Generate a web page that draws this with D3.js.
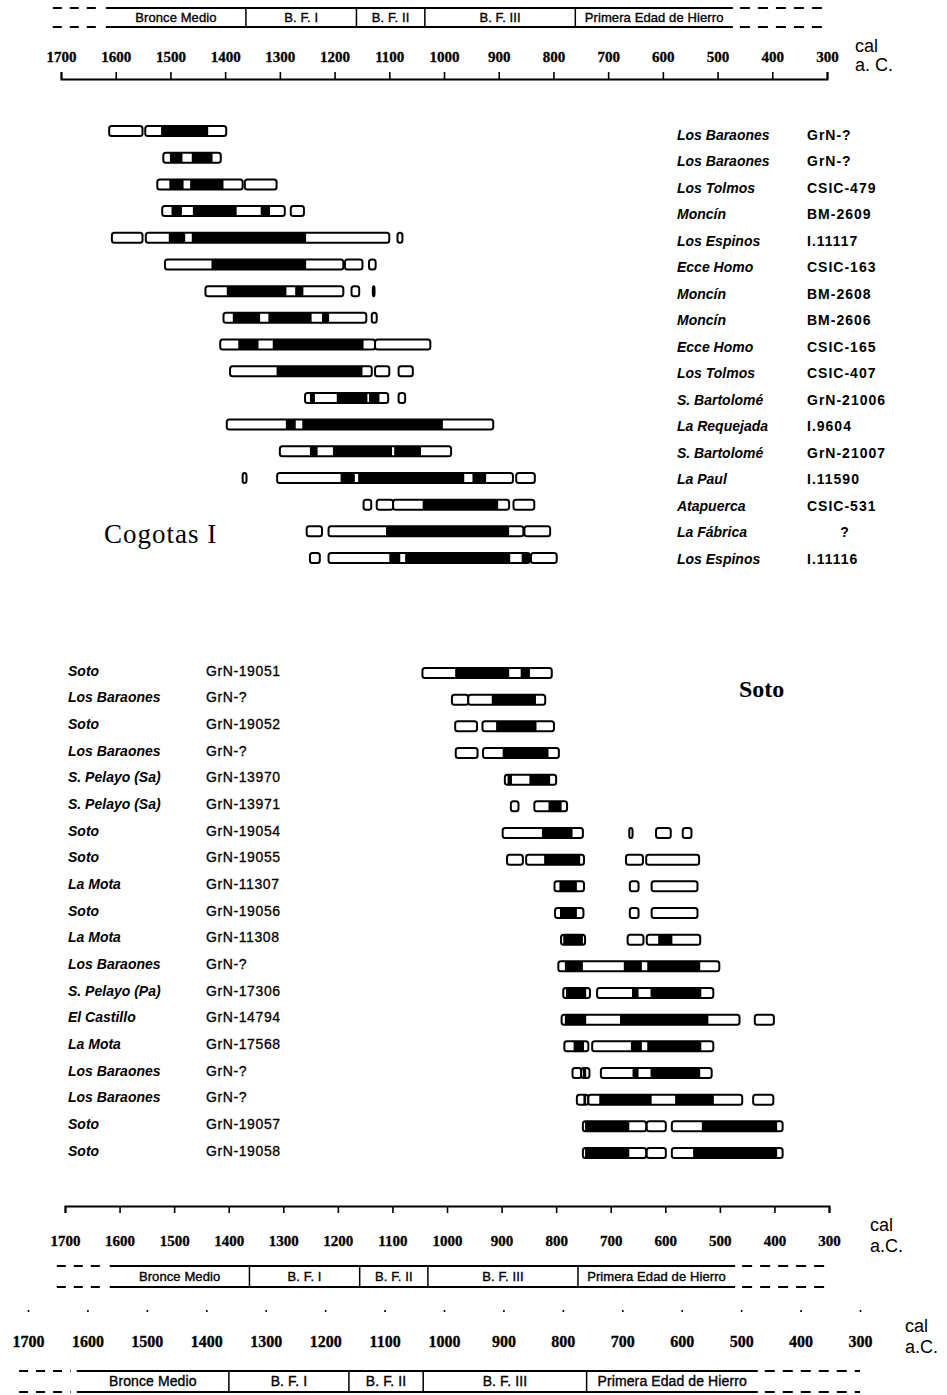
<!DOCTYPE html>
<html>
<head>
<meta charset="utf-8">
<script src="https://cdn.jsdelivr.net/npm/d3@7"></script>
<style>
  html, body { margin: 0; padding: 0; background: #fff; }
  svg { display: block; }
</style>
</head>
<body>
<svg id="chart" width="947" height="1395"></svg>
<script>
// ---- scale ticks (years cal BC) ----
const tickYears = [1700, 1600, 1500, 1400, 1300, 1200, 1100, 1000, 900, 800, 700, 600, 500, 400, 300];

// ---- cultural periods ----
const periodNames = ["Bronce Medio", "B. F. I", "B. F. II", "B. F. III", "Primera Edad de Hierro"];
const periodBounds = [1618, 1362, 1160, 1035, 760, 472];
const periodOpenEnds = [1715, 300];

// ---- Cogotas I dates: calibrated ranges (open boxes) and high-probability spans (black) ----
const cogotasSites = ["Los Baraones", "Los Baraones", "Los Tolmos", "Moncín", "Los Espinos", "Ecce Homo",
  "Moncín", "Moncín", "Ecce Homo", "Los Tolmos", "S. Bartolomé", "La Requejada", "S. Bartolomé",
  "La Paul", "Atapuerca", "La Fábrica", "Los Espinos"];
const cogotasCodes = ["GrN-?", "GrN-?", "CSIC-479", "BM-2609", "I.11117", "CSIC-163", "BM-2608", "BM-2606",
  "CSIC-165", "CSIC-407", "GrN-21006", "I.9604", "GrN-21007", "I.11590", "CSIC-531", "?", "I.11116"];
const cogotasBoxes = [
  [[1612, 1551], [1546, 1398]],
  [[1513, 1408]],
  [[1524, 1368], [1364, 1306]],
  [[1515, 1291], [1280, 1256]],
  [[1607, 1551], [1545, 1100], [1085, 1076]],
  [[1510, 1184], [1181, 1149], [1137, 1125]],
  [[1436, 1184], [1169, 1155], [1130, 1127]],
  [[1403, 1142], [1132, 1123]],
  [[1409, 1126], [1126, 1025]],
  [[1391, 1132], [1126, 1100], [1083, 1057]],
  [[1254, 1102], [1083, 1071]],
  [[1397, 910]],
  [[1300, 987]],
  [[1368, 1361], [1305, 874], [868, 834]],
  [[1147, 1133], [1123, 1093], [1093, 881], [873, 835]],
  [[1251, 1223], [1211, 855], [853, 806]],
  [[1245, 1227], [1211, 843], [841, 794]]
];
const cogotasBlack = [
  [[1517, 1431]],
  [[1501, 1478], [1461, 1423]],
  [[1502, 1476], [1464, 1403]],
  [[1498, 1479], [1459, 1379], [1335, 1318]],
  [[1503, 1473], [1461, 1252]],
  [[1425, 1252]],
  [[1397, 1288], [1272, 1257]],
  [[1386, 1336], [1321, 1242], [1223, 1210]],
  [[1376, 1339], [1313, 1147]],
  [[1306, 1149]],
  [[1245, 1236], [1196, 1140], [1137, 1118]],
  [[1289, 1271], [1259, 1002]],
  [[1245, 1231], [1203, 1095], [1091, 1042]],
  [[1189, 1163], [1157, 963], [948, 923]],
  [[1039, 901]],
  [[1106, 881]],
  [[1100, 1080], [1071, 879], [858, 843]]
];

// ---- Soto dates ----
const sotoSites = ["Soto", "Los Baraones", "Soto", "Los Baraones", "S. Pelayo (Sa)", "S. Pelayo (Sa)", "Soto",
  "Soto", "La Mota", "Soto", "La Mota", "Los Baraones", "S. Pelayo (Pa)", "El Castillo", "La Mota",
  "Los Baraones", "Los Baraones", "Soto", "Soto"];
const sotoCodes = ["GrN-19051", "GrN-?", "GrN-19052", "GrN-?", "GrN-13970", "GrN-13971", "GrN-19054",
  "GrN-19055", "GrN-11307", "GrN-19056", "GrN-11308", "GrN-?", "GrN-17306", "GrN-14794", "GrN-17568",
  "GrN-?", "GrN-?", "GrN-19057", "GrN-19058"];
const sotoBoxes = [
  [[1045, 808]],
  [[991, 961], [961, 820]],
  [[985, 945], [935, 804]],
  [[984, 944], [934, 795]],
  [[894, 800]],
  [[883, 869], [840, 780]],
  [[898, 751], [666, 660], [617, 590], [568, 552]],
  [[890, 861], [855, 749], [672, 641], [635, 538]],
  [[803, 749], [665, 649], [625, 541]],
  [[802, 750], [665, 649], [625, 541]],
  [[791, 747], [669, 640], [634, 536]],
  [[796, 501]],
  [[787, 738], [725, 512]],
  [[790, 464], [436, 401]],
  [[785, 741], [734, 512]],
  [[770, 754], [754, 739], [718, 515]],
  [[762, 741], [741, 459], [439, 402]],
  [[751, 635], [634, 599], [588, 385]],
  [[751, 635], [634, 599], [588, 385]]
];
const sotoBlack = [
  [[985, 886], [865, 848]],
  [[918, 837]],
  [[910, 836]],
  [[898, 814]],
  [[889, 881], [849, 811]],
  [[814, 790]],
  [[826, 770]],
  [[822, 756]],
  [[794, 762]],
  [[793, 762]],
  [[787, 751], [613, 587]],
  [[784, 751], [676, 643], [633, 536]],
  [[782, 745], [661, 649], [627, 534]],
  [[784, 745], [683, 521]],
  [[768, 749], [663, 643], [633, 534]],
  [[751, 745], [660, 649], [627, 536]],
  [[750, 745], [721, 625], [582, 511]],
  [[747, 666], [533, 395]],
  [[747, 666], [549, 395]]
];

// ---- drawing ----
const svg = d3.select("#chart");
const SERIF = "'Liberation Serif', 'DejaVu Serif', serif";
const SANS = "'Liberation Sans', Arial, sans-serif";

const xTop = d3.scaleLinear().domain([1700, 300]).range([61, 827]);
const xMid = d3.scaleLinear().domain([1700, 300]).range([65, 829]);
const xLow = d3.scaleLinear().domain([1700, 300]).range([28, 860]);

const yCog = d3.scalePoint().domain(d3.range(cogotasSites.length)).range([131, 558]);
const yCogLabel = d3.scalePoint().domain(d3.range(cogotasSites.length)).range([136, 560]);
const ySoto = d3.scalePoint().domain(d3.range(sotoSites.length)).range([673, 1153]);

function styleAxis(g, size) {
  g.attr("font-family", SERIF).attr("font-size", size).attr("font-weight", "bold");
  g.select(".domain").attr("stroke-width", 2);
  g.selectAll(".tick line").attr("stroke-width", 1.6);
  g.selectAll(".tick text").attr("fill", "#000").attr("stroke", "#000").attr("stroke-width", 0.3);
}

function calLabel(x, y1, y2, second) {
  svg.append("text").attr("x", x).attr("y", y1).attr("font-family", SANS).attr("font-size", 18)
    .attr("dominant-baseline", "middle").text("cal");
  svg.append("text").attr("x", x).attr("y", y2).attr("font-family", SANS).attr("font-size", 18)
    .attr("dominant-baseline", "middle").text(second);
}

function drawBand(x, yTop, yBot, fontSize) {
  const g = svg.append("g").attr("stroke", "#000").attr("fill", "none");
  const x0 = x(periodBounds[0]), x1 = x(periodBounds[periodBounds.length - 1]);
  [yTop, yBot].forEach(y => {
    g.append("line").attr("x1", x0).attr("x2", x1).attr("y1", y).attr("y2", y).attr("stroke-width", 2);
    g.append("line").attr("x1", x(periodOpenEnds[0])).attr("x2", x0 - 6).attr("y1", y).attr("y2", y)
      .attr("stroke-width", 2).attr("stroke-dasharray", "9,8");
    g.append("line").attr("x1", x1 + 7).attr("x2", x(periodOpenEnds[1])).attr("y1", y).attr("y2", y)
      .attr("stroke-width", 2).attr("stroke-dasharray", "10,8");
  });
  g.selectAll("line.div").data(periodBounds.slice(1, -1)).join("line").attr("class", "div")
    .attr("x1", d => x(d)).attr("x2", d => x(d)).attr("y1", yTop).attr("y2", yBot).attr("stroke-width", 1.5);
  svg.append("g").selectAll("text").data(periodNames).join("text")
    .attr("x", (d, i) => (x(periodBounds[i]) + x(periodBounds[i + 1])) / 2)
    .attr("y", (yTop + yBot) / 2 + 1)
    .attr("text-anchor", "middle").attr("dominant-baseline", "middle")
    .attr("font-family", SANS).attr("font-size", fontSize).attr("letter-spacing", 0.1)
    .attr("stroke", "#000").attr("stroke-width", 0.35)
    .text(d => d);
}

function drawRows(boxes, black, x, y) {
  const H = 10;
  const rows = svg.append("g").selectAll("g").data(boxes.map((b, i) => ({ b, k: black[i], i }))).join("g")
    .attr("transform", d => `translate(0,${y(d.i)})`);
  rows.selectAll("rect.box").data(d => d.b).join("rect").attr("class", "box")
    .attr("x", d => x(d[0])).attr("width", d => Math.max(0.8, x(d[1]) - x(d[0])))
    .attr("y", -H / 2).attr("height", H).attr("rx", 2.5)
    .attr("fill", "#fff").attr("stroke", "#000").attr("stroke-width", 2);
  rows.selectAll("rect.dark").data(d => d.k).join("rect").attr("class", "dark")
    .attr("x", d => x(d[0])).attr("width", d => x(d[1]) - x(d[0]))
    .attr("y", -H / 2).attr("height", H).attr("fill", "#000");
}

// top scale
drawBand(xTop, 8, 27, 13);
const gTop = svg.append("g").attr("transform", "translate(0,79)")
  .call(d3.axisTop(xTop).tickValues(tickYears).tickSize(7).tickSizeOuter(7).tickPadding(10).tickFormat(d3.format("d")));
styleAxis(gTop, 15);
calLabel(855, 47, 66, "a. C.");

// Cogotas I
drawRows(cogotasBoxes, cogotasBlack, xTop, yCog);
const cogLab = svg.append("g").selectAll("g").data(cogotasSites.map((s, i) => ({ s, c: cogotasCodes[i], i }))).join("g");
cogLab.append("text").attr("x", 677).attr("y", d => yCogLabel(d.i)).attr("dominant-baseline", "middle")
  .attr("font-family", SANS).attr("font-size", 14).attr("font-weight", "bold").attr("font-style", "italic")
  .text(d => d.s);
cogLab.append("text").attr("x", d => d.c === "?" ? 845 : 807).attr("y", d => yCogLabel(d.i))
  .attr("text-anchor", d => d.c === "?" ? "middle" : "start").attr("dominant-baseline", "middle")
  .attr("font-family", SANS).attr("font-size", 14).attr("font-weight", "bold").attr("letter-spacing", 1)
  .text(d => d.c);
svg.append("text").attr("x", 104).attr("y", 537).attr("dominant-baseline", "middle")
  .attr("font-family", SERIF).attr("font-size", 27).attr("letter-spacing", 1).text("Cogotas I");

// Soto
drawRows(sotoBoxes, sotoBlack, xMid, ySoto);
const sotoLab = svg.append("g").selectAll("g").data(sotoSites.map((s, i) => ({ s, c: sotoCodes[i], i }))).join("g");
sotoLab.append("text").attr("x", 68).attr("y", d => ySoto(d.i) - 1).attr("dominant-baseline", "middle")
  .attr("font-family", SANS).attr("font-size", 14).attr("font-weight", "bold").attr("font-style", "italic")
  .text(d => d.s);
sotoLab.append("text").attr("x", 206).attr("y", d => ySoto(d.i) - 1).attr("dominant-baseline", "middle")
  .attr("font-family", SANS).attr("font-size", 14).attr("letter-spacing", 0.6)
  .attr("stroke", "#000").attr("stroke-width", 0.3)
  .text(d => d.c);
svg.append("text").attr("x", 739).attr("y", 691).attr("dominant-baseline", "middle")
  .attr("font-family", SERIF).attr("font-size", 24).attr("font-weight", "bold").text("Soto");

// lower scales
const gMid = svg.append("g").attr("transform", "translate(0,1206)")
  .call(d3.axisBottom(xMid).tickValues(tickYears).tickSize(7).tickSizeOuter(7).tickPadding(22).tickFormat(d3.format("d")));
styleAxis(gMid, 15);
calLabel(870, 1226, 1247, "a.C.");
drawBand(xMid, 1266, 1287, 13);

const gLow = svg.append("g").attr("transform", "translate(0,1310)")
  .call(d3.axisBottom(xLow).tickValues(tickYears).tickSize(2).tickPadding(24).tickFormat(d3.format("d")));
styleAxis(gLow, 16);
gLow.select(".domain").remove();
calLabel(905, 1327, 1348, "a.C.");
drawBand(xLow, 1371, 1392, 14);
</script>
</body>
</html>
